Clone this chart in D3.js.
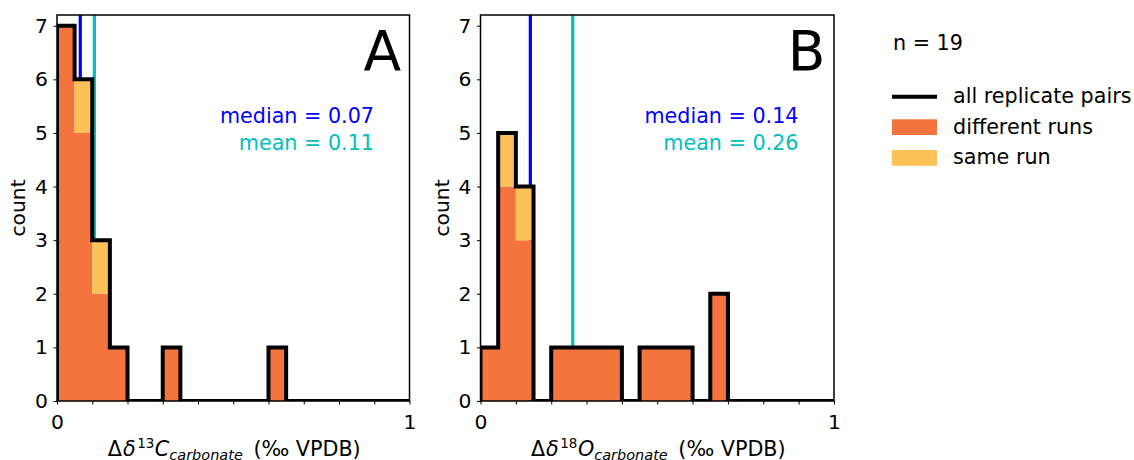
<!DOCTYPE html>
<html><head><meta charset="utf-8">
<script src="https://cdn.jsdelivr.net/npm/d3@7"></script>
<style>
body{margin:0;background:#fff}
text{font-family:"DejaVu Sans",sans-serif;fill:#000}
</style>
</head><body>
<svg id="chart" width="1134" height="460"></svg>
<script>
// ---------------- data ----------------
const binEdges = [0,0.05,0.1,0.15,0.2,0.25,0.3,0.35,0.4,0.45,0.5,0.55,0.6,0.65,0.7,0.75,0.8,0.85,0.9,0.95,1.0];
const countsA_different = [7,5,2,1,0,0,1,0,0,0,0,0,1,0,0,0,0,0,0,0];
const countsA_same      = [0,1,1,0,0,0,0,0,0,0,0,0,0,0,0,0,0,0,0,0];
const countsB_different = [1,4,3,0,1,1,1,1,0,1,1,1,0,2,0,0,0,0,0,0];
const countsB_same      = [0,1,1,0,0,0,0,0,0,0,0,0,0,0,0,0,0,0,0,0];
const medianValues = [0.066, 0.141];
const meanValues   = [0.106, 0.261];
const medianLabels = ["0.07","0.14"];
const meanLabels   = ["0.11","0.26"];
const panelLetters = ["A","B"];
const isotopeSup   = ["13","18"];
const isotopeSym   = ["C","O"];
const yTicks = [0,1,2,3,4,5,6,7];
const xTicks = [0,0.1,0.2,0.3,0.4,0.5,0.6,0.7,0.8,0.9,1.0];
const xTickLabels = ["0","","","","","","","","","","1"];
const legendLabels = ["all replicate pairs","different runs","same run"];
const nLabel = "n = 19";

// ---------------- style / layout ----------------
const C_DIFF = "#f3743d", C_SAME = "#fdc157", C_MED = "#0000ff", C_MEAN = "#00bfbf";
const FS = 20.7, FS_TICK = 20.3;
const panels = [
  {left:57, right:409.5, diff:countsA_different, same:countsA_same},
  {left:480.5, right:834, diff:countsB_different, same:countsB_same}
];
const TOP = 15, BOTTOM = 401;
const svg = d3.select("#chart");

panels.forEach((p,pi)=>{
  const x = d3.scaleLinear().domain([0,1]).range([p.left,p.right]);
  const y = d3.scaleLinear().domain([0,7.2]).range([BOTTOM,TOP]);
  const g = svg.append("g");
  const clipId = "clip"+pi;
  g.append("clipPath").attr("id",clipId).append("rect")
    .attr("x",p.left).attr("y",TOP).attr("width",p.right-p.left).attr("height",BOTTOM-TOP);
  const plot = g.append("g").attr("clip-path",`url(#${clipId})`);

  // median / mean lines (under the histogram)
  plot.append("line").attr("x1",x(medianValues[pi])).attr("x2",x(medianValues[pi]))
    .attr("y1",y(0)).attr("y2",y(7.2)).attr("stroke",C_MED).attr("stroke-width",3.2);
  plot.append("line").attr("x1",x(meanValues[pi])).attr("x2",x(meanValues[pi]))
    .attr("y1",y(0)).attr("y2",y(7.2)).attr("stroke",C_MEAN).attr("stroke-width",3.2);

  // stacked fills
  const pts = binEdges.map((e,i)=>({e, d: p.diff[Math.min(i,p.diff.length-1)], s: p.same[Math.min(i,p.same.length-1)]}));
  const areaDiff = d3.area().curve(d3.curveStepAfter).x(d=>x(d.e)).y0(y(0)).y1(d=>y(d.d));
  const areaSame = d3.area().curve(d3.curveStepAfter).x(d=>x(d.e)).y0(d=>y(d.d)).y1(d=>y(d.d+d.s));
  plot.append("path").attr("d",areaDiff(pts)).attr("fill",C_DIFF);
  plot.append("path").attr("d",areaSame(pts)).attr("fill",C_SAME);

  // step outline of all pairs
  const outline = [[binEdges[0],0]];
  p.diff.forEach((c,i)=>{
    const tot = c + p.same[i];
    outline.push([binEdges[i],tot],[binEdges[i+1],tot]);
  });
  outline.push([binEdges[binEdges.length-1],0]);
  plot.append("path").attr("d",d3.line().x(d=>x(d[0])).y(d=>y(d[1]))(outline))
    .attr("fill","none").attr("stroke","#000").attr("stroke-width",4).attr("stroke-linejoin","miter");

  // axes
  const ya = g.append("g").attr("transform",`translate(${p.left},0)`)
    .call(d3.axisLeft(y).tickValues(yTicks).tickSize(3.5).tickPadding(5.5).tickFormat(d3.format("d")));
  const xa = g.append("g").attr("transform",`translate(0,${BOTTOM})`)
    .call(d3.axisBottom(x).tickValues(xTicks).tickSize(3.5).tickPadding(9.8).tickFormat((d,i)=>xTickLabels[i]));
  [ya,xa].forEach(a=>{
    a.select(".domain").remove();
    a.selectAll(".tick line").attr("stroke","#000").attr("stroke-width",1);
    a.selectAll(".tick text").attr("font-size",FS_TICK).attr("font-family","DejaVu Sans").attr("fill","#000");
  });

  // frame
  g.append("rect").attr("x",p.left).attr("y",TOP).attr("width",p.right-p.left).attr("height",BOTTOM-TOP)
    .attr("fill","none").attr("stroke","#000").attr("stroke-width",1.5);

  // panel letter
  g.append("text").attr("x",p.right-8.5).attr("y",70).attr("text-anchor","end")
    .attr("font-size",55).text(panelLetters[pi]);

  // stats text
  g.append("text").attr("x",p.right-35.5).attr("y",122.5).attr("text-anchor","end")
    .attr("font-size",FS).style("fill",C_MED).text("median = "+medianLabels[pi]);
  g.append("text").attr("x",p.right-35.5).attr("y",150).attr("text-anchor","end")
    .attr("font-size",FS).style("fill",C_MEAN).text("mean = "+meanLabels[pi]);

  // y label
  g.append("text").attr("transform",`translate(${p.left-32},${(TOP+BOTTOM)/2}) rotate(-90)`)
    .attr("text-anchor","middle").attr("font-size",FS_TICK).text("count");

  // x label
  const xl = g.append("text").attr("x",(p.left+p.right)/2 + 1).attr("y",455.5)
    .attr("text-anchor","middle").attr("font-size",FS);
  xl.append("tspan").text("Δ");
  xl.append("tspan").attr("font-style","italic").attr("dx",1).text("δ");
  xl.append("tspan").attr("font-size",13.5).attr("dy",-7.5).attr("dx",1.5).text(isotopeSup[pi]);
  xl.append("tspan").attr("font-style","italic").attr("dy",7.5).attr("dx",0.5).text(isotopeSym[pi]);
  xl.append("tspan").attr("font-style","italic").attr("font-size",14.5).attr("dy",4).text("carbonate");
  xl.append("tspan").attr("dy",-4).attr("dx",4).text(" (‰ VPDB)");
});

// legend
const lg = svg.append("g");
lg.append("text").attr("x",893).attr("y",50).attr("font-size",FS).text(nLabel);
lg.append("line").attr("x1",892).attr("x2",937).attr("y1",96.7).attr("y2",96.7)
  .attr("stroke","#000").attr("stroke-width",4);
lg.append("rect").attr("x",892).attr("y",119.3).attr("width",45).attr("height",15.7).attr("fill",C_DIFF);
lg.append("rect").attr("x",892).attr("y",150).attr("width",45).attr("height",15.7).attr("fill",C_SAME);
const ly = [103.3,134,164.3];
legendLabels.forEach((t,i)=>{
  lg.append("text").attr("x",953).attr("y",ly[i]).attr("font-size",FS).text(t);
});
</script>
</body></html>
